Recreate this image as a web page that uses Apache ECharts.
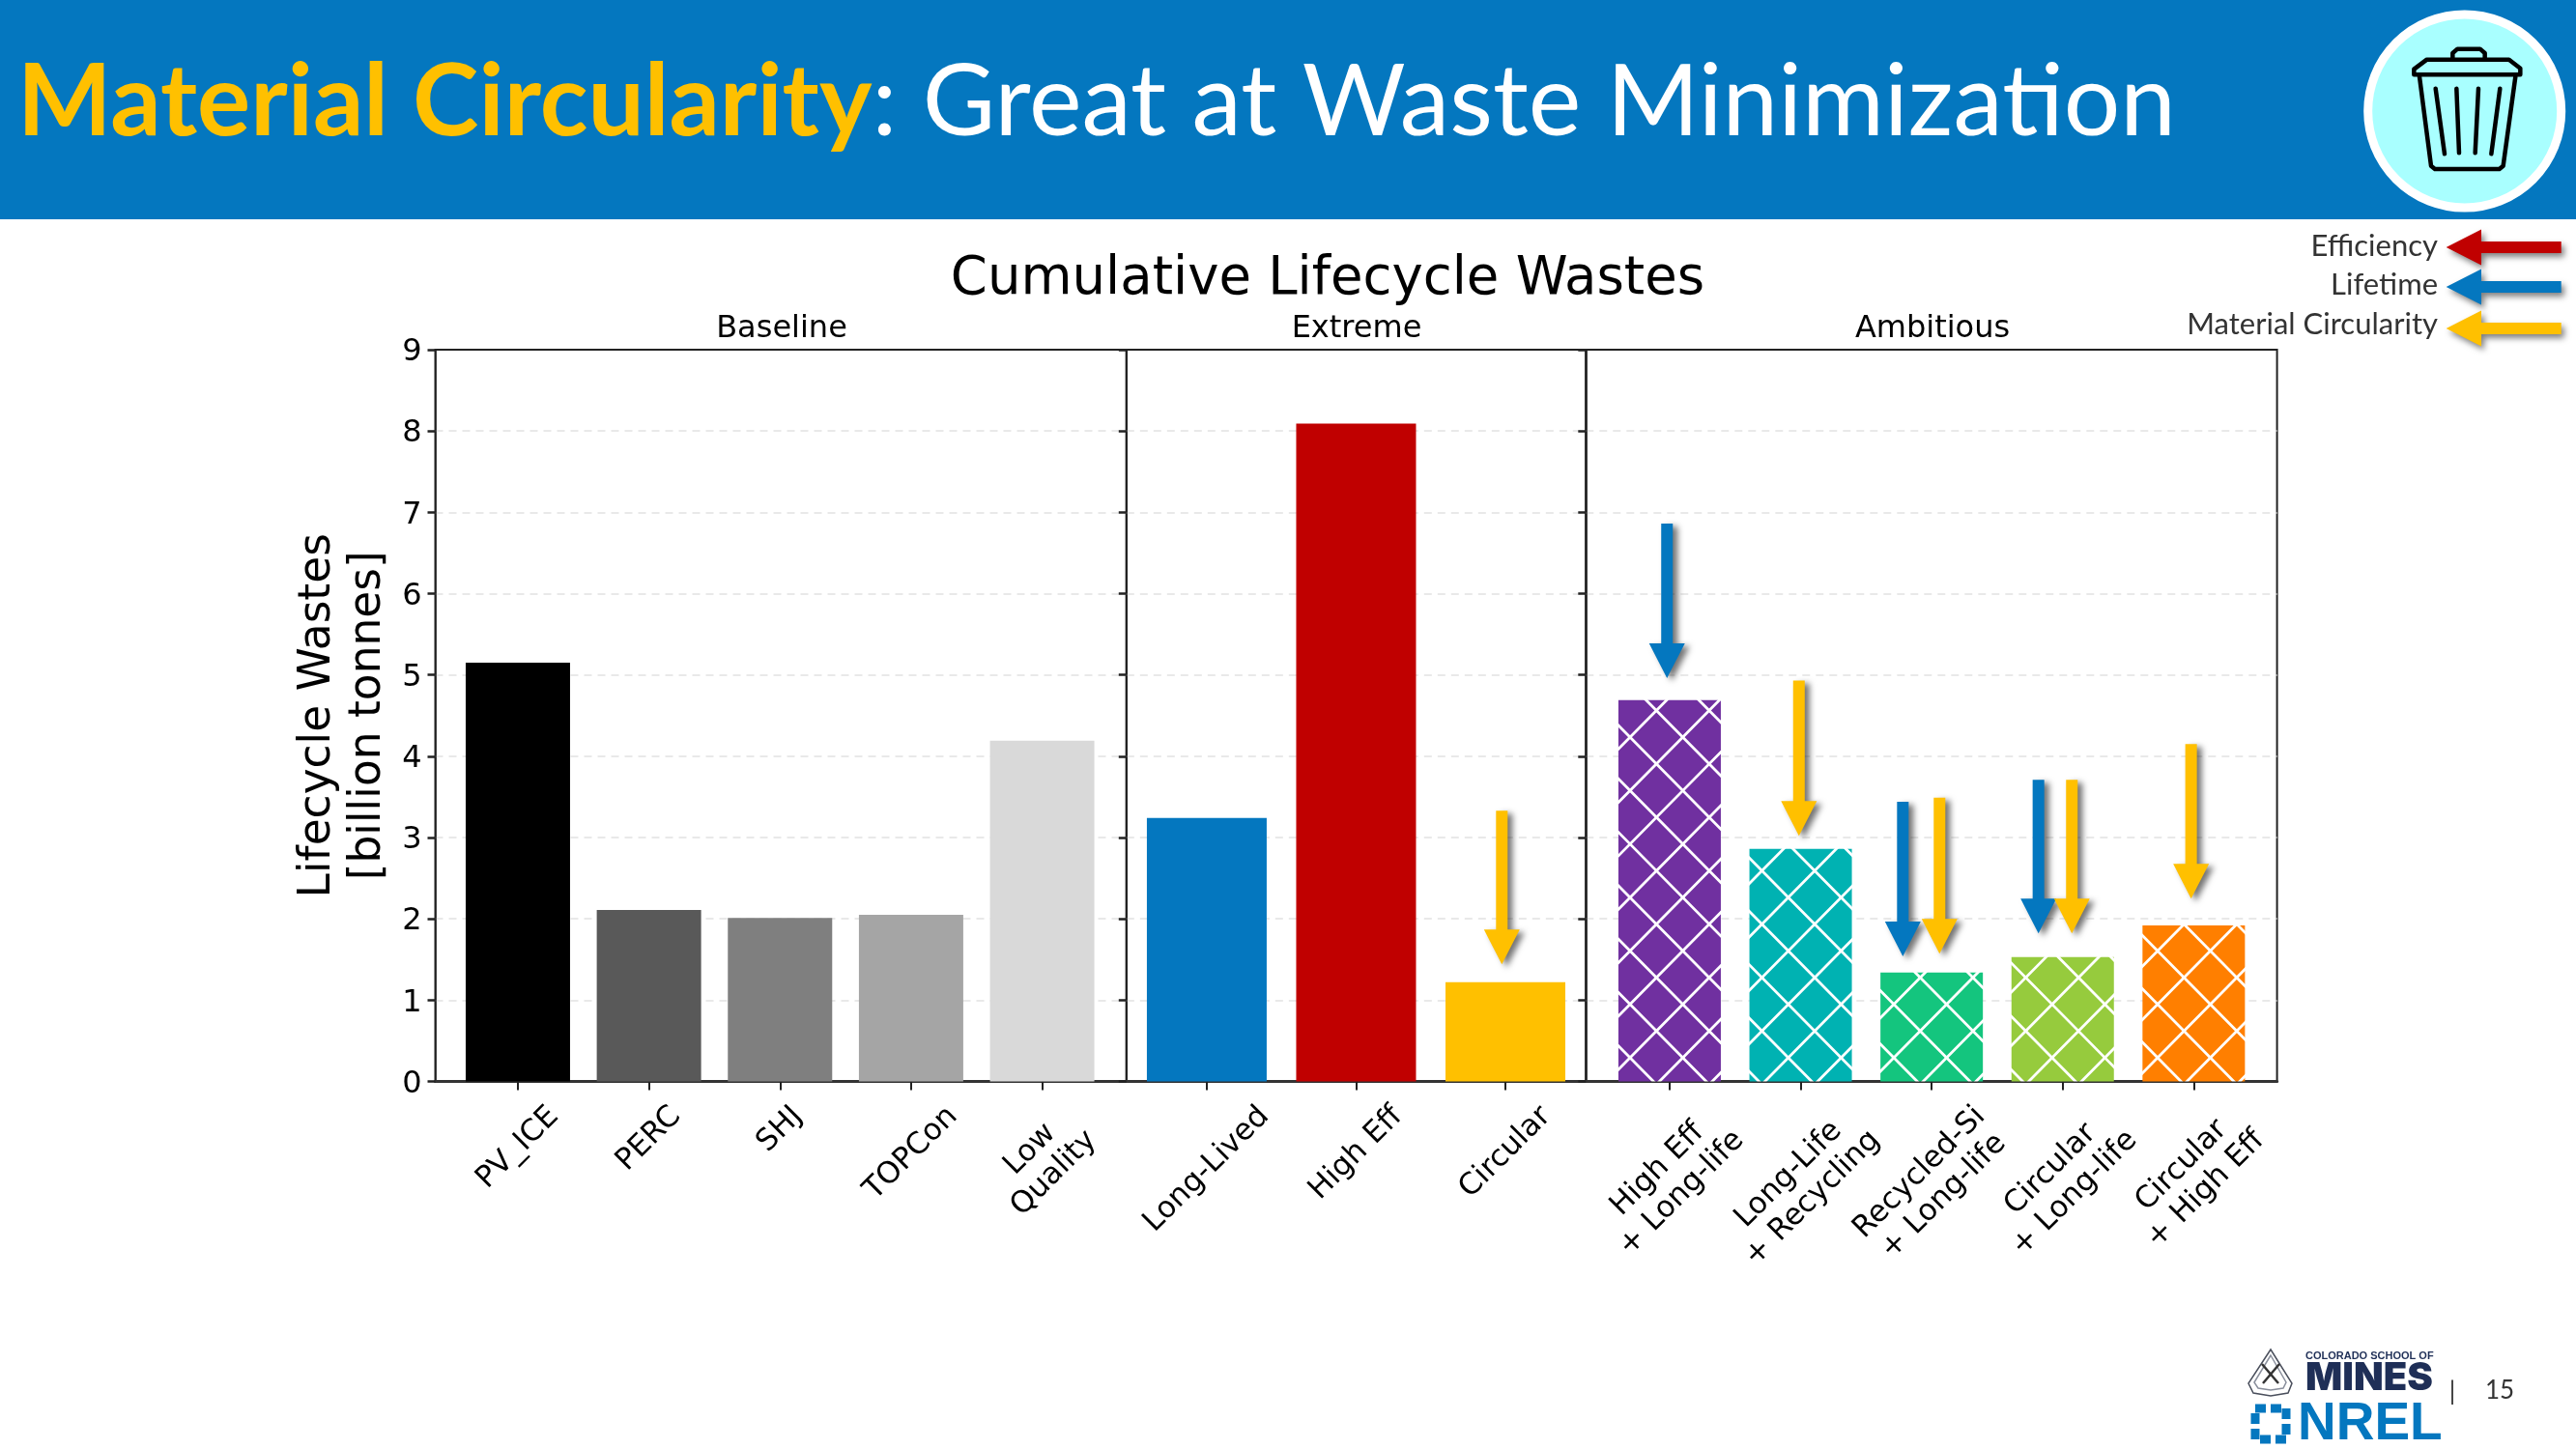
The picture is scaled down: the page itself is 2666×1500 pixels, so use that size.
<!DOCTYPE html>
<html>
<head>
<meta charset="utf-8">
<script src="https://cdn.jsdelivr.net/npm/echarts@6/dist/echarts.min.js"></script>
<style>html,body{margin:0;padding:0;background:#fff}#c{width:2666px;height:1500px}</style>
</head>
<body>
<div id="c"></div>
<script>
// ---------- data ----------
const baselineCats = ['PV_ICE', 'PERC', 'SHJ', 'TOPCon', 'Low\nQuality'];
const baselineVals = [5.15, 2.11, 2.01, 2.05, 4.19];
const baselineColors = ['#000000', '#595959', '#7F7F7F', '#A5A5A5', '#D9D9D9'];

const extremeCats = ['Long-Lived', 'High Eff', 'Circular'];
const extremeVals = [3.24, 8.09, 1.22];
const extremeColors = ['#0477BF', '#C00000', '#FFC000'];

const ambitiousCats = ['High Eff\n+ Long-life', 'Long-Life\n+ Recycling', 'Recycled-Si\n+ Long-life', 'Circular\n+ Long-life', 'Circular\n+ High Eff'];
const ambitiousVals = [4.69, 2.86, 1.34, 1.53, 1.92];
const ambitiousColors = ['#7030A0', '#00B2B2', '#14C57E', '#96CB3D', '#FF7F00'];

const yTicks = [0, 1, 2, 3, 4, 5, 6, 7, 8, 9];

// arrows: [x position, tail value, tip value]
const extremeArrows = [[1.976, 3.33, 1.44]];
const extremeArrowColors = ['#FFC000'];
const ambitiousArrows = [[-0.02, 6.86, 4.96], [0.987, 4.93, 3.02], [1.78, 3.44, 1.54], [2.06, 3.49, 1.57], [2.815, 3.71, 1.82], [3.07, 3.71, 1.82], [3.98, 4.15, 2.25]];
const ambitiousArrowColors = ['#0477BF', '#FFC000', '#0477BF', '#FFC000', '#0477BF', '#FFC000', '#FFC000'];

const legendNames = ['Efficiency', 'Lifetime', 'Material Circularity'];
const legendColors = ['#C00000', '#0477BF', '#FFC000'];

// ---------- styling helpers ----------
const DV = '"DejaVu Sans"';
const SLIDE = 'Lato';
const TOP = 362, H = 757.5;
const panels = [
  {name: 'Baseline', left: 450.5, width: 715.3, xMin: -0.63, xMax: 4.643, barW: 108, cats: baselineCats, vals: baselineVals, colors: baselineColors},
  {name: 'Extreme', left: 1165.8, width: 475.5, xMin: -0.538, xMax: 2.539, barW: 124, cats: extremeCats, vals: extremeVals, colors: extremeColors, arrows: extremeArrows, arrowColors: extremeArrowColors},
  {name: 'Ambitious', left: 1641.3, width: 715.3, xMin: -0.639, xMax: 4.636, barW: 106, cats: ambitiousCats, vals: ambitiousVals, colors: ambitiousColors, hatch: true, arrows: ambitiousArrows, arrowColors: ambitiousArrowColors}
];

function hatch(color) {
  const px = 54.6, py = 55.3, W = 546, Hh = 553, x0 = 1714.3, y0 = 1012;
  const c = document.createElement('canvas');
  c.width = W; c.height = Hh;
  const g = c.getContext('2d');
  g.fillStyle = color; g.fillRect(0, 0, W, Hh);
  g.strokeStyle = '#fff'; g.lineWidth = 2.8;
  const ox = x0 % px, oy = y0 % py;
  for (let m = -25; m <= 25; m++) {
    g.beginPath();
    g.moveTo(-px, oy + m * py - (ox + px) * py / px);
    g.lineTo(W + px, oy + m * py + (W + px - ox) * py / px);
    g.moveTo(-px, oy + m * py + (ox + px) * py / px);
    g.lineTo(W + px, oy + m * py - (W + px - ox) * py / px);
    g.stroke();
  }
  return {image: c, repeat: 'repeat'};
}

const LABEL_FONT = 31, LABEL_LH = 35, LABEL_GAP = 19;
const meter = document.createElement('canvas').getContext('2d');
meter.font = LABEL_FONT + 'px "DejaVu Sans"';

function labelSeries(p, i) {
  return {
    type: 'custom', xAxisIndex: i, yAxisIndex: i, silent: true, clip: false, z: 5,
    data: p.cats.map((c, k) => [k, 0]),
    encode: {x: 0, y: 1},
    renderItem(params, api) {
      const pt = api.coord([api.value(0), 0]);
      const lines = p.cats[params.dataIndex].split('\n');
      const w = Math.max(...lines.map(s => meter.measureText(s).width));
      const h = lines.length * LABEL_LH;
      const cy = pt[1] + LABEL_GAP + (w + h) * Math.SQRT1_2 / 2;
      return {type: 'text', x: pt[0], y: cy, rotation: Math.PI / 4,
        style: {text: p.cats[params.dataIndex], fontSize: LABEL_FONT, fontFamily: DV, fill: '#000', align: 'center', verticalAlign: 'middle', lineHeight: LABEL_LH}};
    }
  };
}

function arrowSeries(p, i) {
  return {
    type: 'custom', xAxisIndex: i, yAxisIndex: i, silent: true, clip: false, z: 6,
    data: p.arrows,
    encode: {x: 0, y: [1, 2]},
    renderItem(params, api) {
      const a = api.coord([api.value(0), api.value(1)]);
      const b = api.coord([api.value(0), api.value(2)]);
      const x = a[0], sw = 6, hw = 18.5, hl = 36;
      return {type: 'polygon',
        shape: {points: [[x - sw, a[1]], [x + sw, a[1]], [x + sw, b[1] - hl], [x + hw, b[1] - hl], [x, b[1]], [x - hw, b[1] - hl], [x - sw, b[1] - hl]]},
        style: {fill: p.arrowColors[params.dataIndex], shadowBlur: 6, shadowColor: 'rgba(0,0,0,0.55)', shadowOffsetX: 5, shadowOffsetY: 3}};
    }
  };
}

// ---------- option parts ----------
const grid = panels.map(p => ({show: true, left: p.left, top: TOP, width: p.width, height: H, borderColor: '#222', borderWidth: 2, backgroundColor: 'transparent'}));
const xAxis = panels.map((p, i) => ({
  type: 'value', gridIndex: i, min: p.xMin, max: p.xMax,
  axisLine: {show: true, onZero: false, lineStyle: {color: '#333', width: 3}},
  axisTick: {show: true, customValues: p.cats.map((c, k) => k), length: 9, lineStyle: {color: '#222', width: 2}},
  axisLabel: {show: false}, splitLine: {show: false}
}));
const yAxis = panels.map((p, i) => ({
  type: 'value', gridIndex: i, min: yTicks[0], max: yTicks[yTicks.length - 1], interval: 1,
  name: i === 0 ? 'Lifecycle Wastes\n[billion tonnes]' : '',
  nameLocation: 'middle', nameRotate: 90, nameGap: 43,
  nameTextStyle: {fontFamily: DV, fontSize: 45.5, color: '#000', lineHeight: 52},
  axisLine: {show: true, onZero: false, lineStyle: {color: '#222', width: 1.5}},
  axisTick: {show: true, length: 8, lineStyle: {color: '#222', width: 2.5}},
  axisLabel: {show: i === 0, margin: 14, formatter: '{t|{value}}',
    rich: {t: {fontFamily: DV, fontSize: 32, color: '#000', padding: [6, 0, 0, 0]}}},
  splitLine: {show: true, showMinLine: false, showMaxLine: false, lineStyle: {color: '#e2e2e2', width: 1.5, type: [8, 6]}}
}));

const series = [];
panels.forEach((p, i) => {
  series.push({
    type: 'bar', xAxisIndex: i, yAxisIndex: i, barWidth: p.barW, z: 3, silent: true,
    data: p.vals.map((v, k) => ({value: [k, v], itemStyle: {color: p.hatch ? hatch(p.colors[k]) : p.colors[k]}}))
  });
  series.push(labelSeries(p, i));
  if (p.arrows) series.push(arrowSeries(p, i));
});

const titles = [
  {text: 'Cumulative Lifecycle Wastes', left: 1369, top: 257, textAlign: 'center', textStyle: {fontFamily: DV, fontWeight: 'normal', fontSize: 54.5, color: '#000'}}
].concat(panels.map((p, i) => ({
  text: p.name, left: [808, 1403, 1999][i] - 4, top: 320, textAlign: 'center',
  textStyle: {fontFamily: DV, fontWeight: 'normal', fontSize: 32, color: '#000'}
})));

// ---------- slide furniture ----------
const z = (x, y) => [2200 + x / 3, y / 3];
const pts = a => a.map(q => z(q[0], q[1]));
const ink = {fill: 'none', stroke: '#000', lineWidth: 4.5, lineJoin: 'round', lineCap: 'round'};
const graphic = [
  {type: 'rect', shape: {x: 0, y: 0, width: 2666, height: 227}, style: {fill: '#0477BF'}, z: 0},
  {type: 'text', x: 18, y: 107, z: 2, style: {text: '{a|Material Circularity}{b|: Great at Waste Minimization}', verticalAlign: 'middle',
    rich: {a: {fontFamily: SLIDE, fontWeight: 'bold', fontSize: 103.3, fill: '#FFC000'}, b: {fontFamily: SLIDE, fontSize: 103.3, fill: '#fff'}}}},
  {type: 'circle', shape: {cx: 2550.7, cy: 115, r: 100}, style: {fill: '#A9FFFF', stroke: '#fff', lineWidth: 9}, z: 1},
  {type: 'polygon', shape: {points: pts([[895, 232], [895, 215], [935, 185], [1190, 185], [1225, 212], [1225, 232]])}, style: ink, z: 2},
  {type: 'polyline', shape: {points: pts([[1015, 182], [1015, 165], [1030, 152], [1100, 152], [1115, 165], [1115, 182]])}, style: ink, z: 2},
  {type: 'polyline', shape: {points: pts([[912, 238], [948, 515], [960, 525], [1160, 525], [1172, 515], [1210, 238]])}, style: ink, z: 2},
  {type: 'polyline', shape: {points: pts([[962, 275], [990, 478]])}, style: ink, z: 2},
  {type: 'polyline', shape: {points: pts([[1027, 275], [1035, 475]])}, style: ink, z: 2},
  {type: 'polyline', shape: {points: pts([[1095, 275], [1085, 475]])}, style: ink, z: 2},
  {type: 'polyline', shape: {points: pts([[1162, 275], [1135, 478]])}, style: ink, z: 2},
  // page footer
  {type: 'polygon', shape: {points: [[2350, 1397], [2372, 1432], [2368, 1442], [2350, 1445], [2332, 1442], [2327, 1432]]}, style: {fill: '#fff', stroke: '#4a4f5c', lineWidth: 1.5}, z: 2},
  {type: 'polygon', shape: {points: [[2350, 1403], [2366, 1431], [2363, 1437], [2350, 1439], [2337, 1437], [2333, 1431]]}, style: {fill: 'none', stroke: '#8a8f9c', lineWidth: 1.5}, z: 2},
  {type: 'polyline', shape: {points: [[2341, 1412], [2358, 1432]]}, style: {stroke: '#333', lineWidth: 2.5, fill: 'none'}, z: 2},
  {type: 'polyline', shape: {points: [[2359, 1412], [2342, 1432]]}, style: {stroke: '#333', lineWidth: 2.5, fill: 'none'}, z: 2},
  {type: 'text', x: 2386, y: 1403.5, z: 2, style: {text: 'COLORADO SCHOOL OF', fontFamily: 'Liberation Sans', fontWeight: 'bold', fontSize: 11, fill: '#1F2F57', verticalAlign: 'middle'}},
  {type: 'text', x: 2386, y: 1427, z: 2, style: {text: 'MINES', fontFamily: 'Inter', fontWeight: 900, fontSize: 40, fill: '#1F2F57', verticalAlign: 'middle'}},
  {type: 'text', x: 2378, y: 1475, z: 2, style: {text: 'NREL', fontFamily: 'Liberation Sans', fontWeight: 'bold', fontSize: 55, fill: '#0477BF', verticalAlign: 'middle'}},
  {type: 'rect', shape: {x: 2334, y: 1458, width: 32, height: 32}, style: {fill: 'none', stroke: '#0477BF', lineWidth: 9, lineDash: [11, 5]}, z: 2},
  {type: 'text', x: 2538, y: 1441, z: 2, style: {text: '|', fontFamily: SLIDE, fontSize: 26, fill: '#333', align: 'center', verticalAlign: 'middle'}},
  {type: 'text', x: 2587, y: 1440, z: 2, style: {text: '15', fontFamily: SLIDE, fontSize: 26, fill: '#333', align: 'center', verticalAlign: 'middle'}}
];
// legend of lever arrows, top right of the chart
[256, 297, 340].forEach((cy, i) => {
  graphic.push({type: 'polygon', z: 2,
    shape: {points: [[2531.7, cy], [2568, cy - 18.5], [2568, cy - 6], [2650.7, cy - 6], [2650.7, cy + 6], [2568, cy + 6], [2568, cy + 18.5]]},
    style: {fill: legendColors[i], shadowBlur: 6, shadowColor: 'rgba(0,0,0,0.5)', shadowOffsetX: 3, shadowOffsetY: 4}});
  graphic.push({type: 'text', x: 2523, y: [255, 295, 336][i], z: 2,
    style: {text: legendNames[i], fontFamily: SLIDE, fontSize: 31, fill: '#333', align: 'right', verticalAlign: 'middle'}});
});

const chart = echarts.init(document.getElementById('c'), null, {renderer: 'canvas'});
chart.setOption({animation: false, backgroundColor: '#fff', title: titles, grid, xAxis, yAxis, series, graphic});
</script>
</body>
</html>
